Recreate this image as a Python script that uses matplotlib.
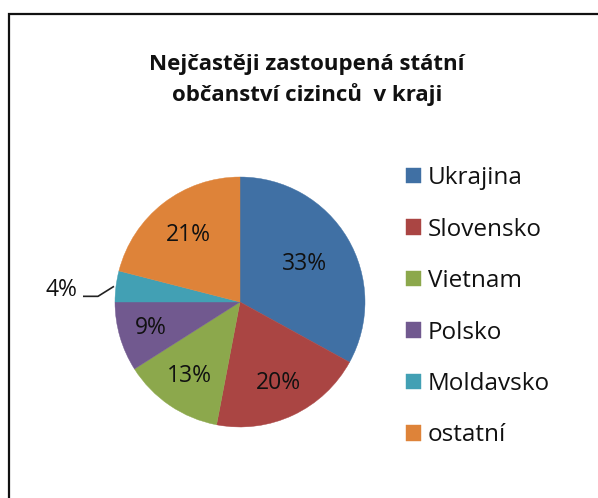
import matplotlib
matplotlib.use("Agg")
import matplotlib.pyplot as plt
import numpy as np
from matplotlib.patches import Rectangle

categories = ["Ukrajina", "Slovensko", "Vietnam", "Polsko", "Moldavsko", "ostatní"]
values = [33, 20, 13, 9, 4, 21]
colors = ["#4070A4", "#AA4543", "#8CA84C", "#71598F", "#42A0B4", "#DE8339"]
title = "Nejčastěji zastoupená státní\nobčanství cizinců  v kraji"

plt.rcParams['font.family'] = ['Open Sans', 'DejaVu Sans']

W, H = 598, 498
fig = plt.figure(figsize=(W / 100, H / 100), dpi=100)
fig.patch.set_facecolor("white")

# pie axes: center (240, 302), radius 125 px
cx, cy, r = 240, 302, 125
ax = fig.add_axes([(cx - r) / W, (H - cy - r) / H, 2 * r / W, 2 * r / H])
wedges, texts, autotexts = ax.pie(
    values, colors=colors, startangle=90, counterclock=False,
    autopct="%1.0f%%", pctdistance=0.7,
    wedgeprops=dict(linewidth=0),
    textprops=dict(fontsize=16.5, color="#111111"))
for w in wedges:
    w.set_edgecolor(w.get_facecolor())
    w.set_linewidth(0.3)
ax.set_xlim(-1, 1)
ax.set_ylim(-1, 1)
ax.set_aspect("equal")
ax.axis("off")

dists = [0.6, 0.72, 0.72, 0.74, None, 0.68]
px = 1 / r  # one pixel in data units
for w, t, d in zip(wedges, autotexts, dists):
    mid = np.deg2rad((w.theta1 + w.theta2) / 2)
    if d is None:
        t.set_visible(False)
        ex, ey = np.cos(mid), np.sin(mid)
        xs = [ex - 2 * px, ex - 18 * px, ex - 33 * px]
        ys = [ey, ey - 10 * px, ey - 10 * px]
        ax.plot(xs, ys, color="#222222", lw=1.2, clip_on=False,
                solid_capstyle="butt")
        ax.text(xs[-1] - 6 * px, ey - 4 * px, t.get_text(), ha="right",
                va="center", fontsize=16.5, color="#111111")
    else:
        t.set_position((np.cos(mid) * d, np.sin(mid) * d))

fig.text(307 / W, 1 - 80 / H, title, ha="center", va="center",
         fontsize=16, fontweight="bold", linespacing=1.5, color="#111111")

leg = fig.legend(wedges, categories, loc="upper left",
                 bbox_to_anchor=(394 / W, 1 - 154 / H), frameon=False,
                 fontsize=17.5, handlelength=0.6, handleheight=0.6,
                 handletextpad=0.3, labelspacing=1.13, borderpad=0)
for txt in leg.get_texts():
    txt.set_color("#111111")

fig.patches.append(Rectangle((8.5 / W, -0.05), 1.2, (H - 14.5) / H + 0.05,
                             transform=fig.transFigure, fill=False,
                             edgecolor="#111111", linewidth=1.6))

fig.savefig("out.png", dpi=100, facecolor="white")
